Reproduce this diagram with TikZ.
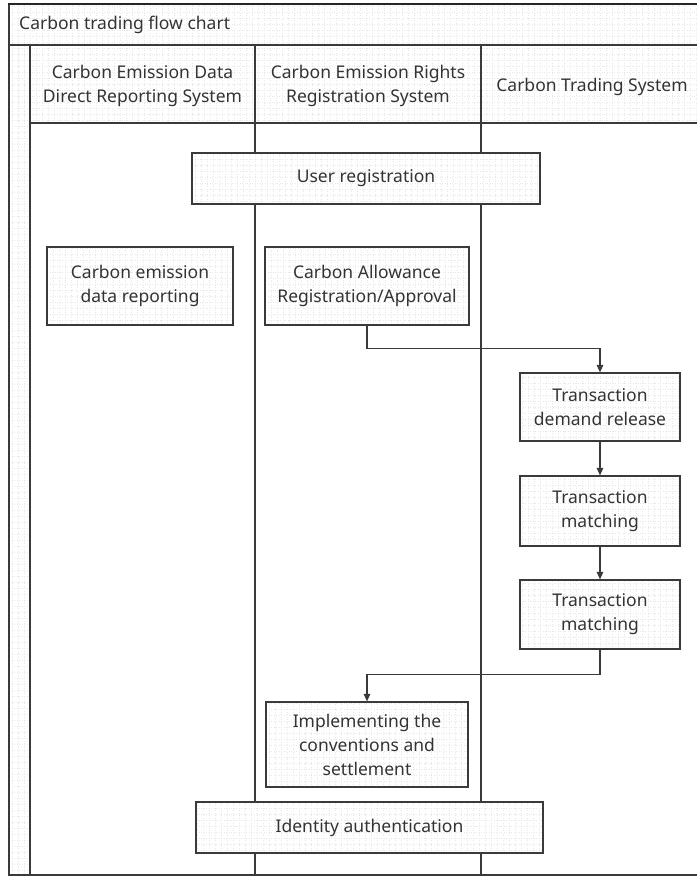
\documentclass[tikz,border=0pt]{standalone}
\usepackage{fontspec}
\setmainfont{Noto Sans}
\usetikzlibrary{arrows.meta}
\definecolor{ln}{HTML}{3A3A3A}
\definecolor{tx}{HTML}{333333}
\definecolor{gr}{HTML}{E8E8E8}
\tikzset{
  gridfill/.style={path picture={\draw[gr,line width=0.5pt,dotted] (path picture bounding box.south west) grid[step=6pt] (path picture bounding box.north east);}},
  box/.style={draw=ln,line width=1.2pt,fill=white,gridfill,text=tx,align=center,inner sep=0pt,font=\fontsize{17.5}{24}\selectfont},
  lab/.style={text=tx,align=center,inner sep=0pt,font=\fontsize{17.5}{24}\selectfont},
  arr/.style={draw=ln,line width=1.2pt,-{Triangle[width=6.5pt,length=7.5pt]}},
  lane/.style={draw=ln,line width=1.2pt}
}
\begin{document}
\begin{tikzpicture}[x=1pt,y=-1pt]
\useasboundingbox (0,0) rectangle (697,876);
\fill[white] (0,0) rectangle (697,876);
% grid backgrounds
\begin{scope}
\clip (9,4) rectangle (697,123);
\draw[gr,line width=0.5pt,dotted,step=6pt] (9,4) grid (697,123);
\end{scope}
\begin{scope}
\clip (9,45) rectangle (30,876);
\draw[gr,line width=0.5pt,dotted,step=6pt] (9,45) grid (30,876);
\end{scope}
% frame
\draw[lane] (9,876) -- (9,4);
\draw[draw=black!85,line width=2pt] (8,4) -- (697,4);
\draw[lane] (9,45) -- (697,45);
\draw[lane] (30,123) -- (697,123);
\draw[lane] (30,45) -- (30,876);
\draw[lane] (255,45) -- (255,876);
\draw[lane] (481,45) -- (481,876);
\draw[lane] (9,875) -- (697,875);
% header texts
\node[lab,anchor=west] (title) at (19,25) {Carbon trading flow chart};
\node[lab] (h1) at (142.5,86) {Carbon Emission Data\\Direct Reporting System};
\node[lab] (h2) at (368,86) {Carbon Emission Rights\\Registration System};
\node[lab] (h3) at (592,87) {Carbon Trading System};
% nodes
\node[box,minimum width=348pt,minimum height=51pt] (user) at (366,178.5) {User registration};
\node[box,minimum width=186pt,minimum height=78pt] (cedr) at (140,286) {Carbon emission\\data reporting};
\node[box,minimum width=204pt,minimum height=78pt] (allow) at (367,286) {Carbon Allowance\\Registration/Approval};
\node[box,minimum width=160pt,minimum height=68pt] (tdr) at (600,407) {Transaction\\demand release};
\node[box,minimum width=160pt,minimum height=70pt] (tm1) at (600,511) {Transaction\\matching};
\node[box,minimum width=160pt,minimum height=69pt] (tm2) at (600,614.5) {Transaction\\matching};
\node[box,minimum width=202pt,minimum height=85pt] (impl) at (367,744.5) {Implementing the\\conventions and\\settlement};
\node[box,minimum width=347pt,minimum height=51pt] (ident) at (369.5,827.5) {Identity authentication};
% connectors
\draw[arr] (allow.south) -- ++(0,23) -| (tdr.north);
\draw[arr] (tdr.south) -- (tm1.north);
\draw[arr] (tm1.south) -- (tm2.north);
\draw[arr] (tm2.south) -- ++(0,25) -| (impl.north);
\end{tikzpicture}
\end{document}
